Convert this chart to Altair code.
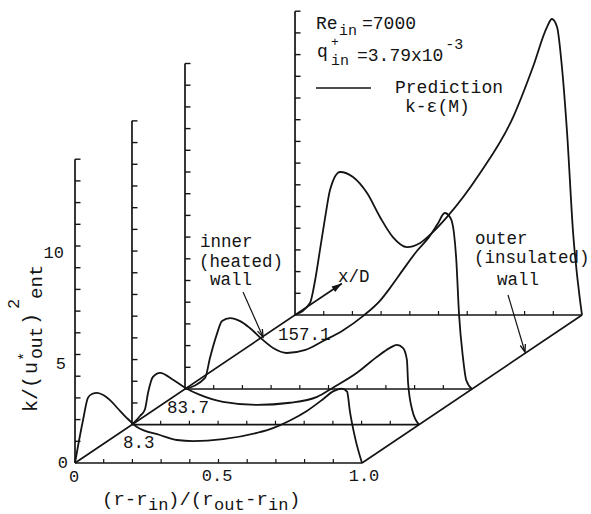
import altair as alt
import pandas as pd

# ---------------- values ----------------
# x/D stations of the oblique planes (front plane carries the axis frame)
station_labels = ["8.3", "83.7", "157.1"]

# k/(u*_out)^2_ent versus (r-r_in)/(r_out-r_in) for each plane (front -> back)
r_p0 = [0.0, 0.010, 0.028, 0.045, 0.059, 0.077, 0.100, 0.122, 0.150, 0.181, 0.216,
        0.296, 0.355, 0.411, 0.516, 0.634, 0.690, 0.749, 0.808, 0.864, 0.899,
        0.930, 0.948, 0.958, 0.976, 1.0]
k_p0 = [0.0, 0.74, 1.98, 3.00, 3.18, 3.23, 3.12, 2.90, 2.50, 2.07, 1.66,
        1.29, 1.06, 1.01, 1.10, 1.39, 1.61, 1.96, 2.40, 2.94, 3.30,
        3.43, 3.29, 2.37, 1.16, 0.0]

r_p1 = [0.0, 0.028, 0.045, 0.056, 0.073, 0.098, 0.143, 0.185, 0.237, 0.317, 0.436,
        0.551, 0.645, 0.700, 0.784, 0.854, 0.899, 0.923, 0.944, 0.958, 0.962, 0.976, 1.0]
k_p1 = [0.0, 0.40, 0.70, 1.47, 2.20, 2.39, 2.07, 1.70, 1.37, 1.05, 0.91,
        1.01, 1.28, 1.70, 2.39, 3.13, 3.54, 3.68, 3.54, 2.99, 1.93, 0.70, 0.0]

r_p2 = [0.0, 0.070, 0.087, 0.111, 0.129, 0.157, 0.192, 0.226, 0.268, 0.307, 0.355,
        0.420, 0.481, 0.550, 0.620, 0.679, 0.714, 0.760, 0.808, 0.850, 0.880,
        0.905, 0.925, 0.937, 0.945, 0.955, 0.968, 0.980, 1.0]
k_p2 = [0.0, 0.51, 1.43, 2.53, 3.13, 3.27, 3.13, 2.81, 2.30, 1.89, 1.66,
        1.80, 2.21, 2.70, 3.36, 4.06, 4.65, 5.50, 6.36, 7.00, 7.60,
        8.11, 7.88, 7.20, 6.00, 3.40, 1.50, 0.40, 0.0]

r_p3 = [0.0, 0.052, 0.070, 0.087, 0.105, 0.122, 0.157, 0.202, 0.251, 0.296, 0.341,
        0.390, 0.436, 0.470, 0.530, 0.645, 0.760, 0.829, 0.878, 0.895, 0.913,
        0.930, 0.948, 0.969, 0.993, 1.0]
k_p3 = [0.0, 0.55, 1.60, 3.00, 4.50, 5.76, 6.59, 6.36, 5.62, 4.52, 3.59,
        3.13, 3.32, 3.69, 4.52, 6.54, 9.12, 11.43, 13.27, 13.64, 13.27,
        11.43, 8.39, 3.78, 0.69, 0.0]

profiles = [(r_p0, k_p0), (r_p1, k_p1), (r_p2, k_p2), (r_p3, k_p3)]

axis_tops = [14, 14, 15, 14]          # height of each plane's k axis
r_ticks = [0.1, 0.2, 0.3, 0.4, 0.5, 0.6, 0.7, 0.8, 0.9]
y_label_text = ["0", "5", "10"]
y_label_vals = [0, 5, 10]
x_label_text = ["0", "0.5", "1.0"]
x_label_vals = [0.0, 0.5, 1.0]

# ---------------- layout (pixels / positions / styles) ----------------
W, H = 591, 514
PX_U, PX_V = 287.0, 21.7              # px per unit of r and of k
X0, Y0 = 75.0, 463.0                  # pixel of the front origin
U_MIN, U_MAX = -X0 / PX_U, (W - X0) / PX_U
V_MIN, V_MAX = -(H - Y0) / PX_V, Y0 / PX_V
OBL_U, OBL_V = 0.7666, 6.82           # oblique offset of the last plane
plane_pos = [0.0, 0.259, 0.5, 1.0]
XD_TIP = 1.213                         # where the x/D arrow ends (in plane units)
TICK_U = 5.5 / PX_U
TICK_V = 4.0 / PX_V
INK = "#141414"
FONT = "Liberation Mono"

offs = [(t * OBL_U, t * OBL_V) for t in plane_pos]

# curves
rows = []
for j, (rs, ks) in enumerate(profiles):
    du, dv = offs[j]
    for i, (r, k) in enumerate(zip(rs, ks)):
        rows.append(dict(series=j, order=i, u=r + du, v=k + dv))
df_curves = pd.DataFrame(rows)

# segments: axes, ticks, diagonals, arrows, legend line
segs = []
def seg(u1, v1, u2, v2, w):
    segs.append(dict(u=u1, v=v1, u2=u2, v2=v2, w=w))

for j, (du, dv) in enumerate(offs):
    seg(du, dv, du, dv + axis_tops[j], 1.7)
    seg(du, dv, du + 1.0, dv, 1.7)
    for k in range(1, axis_tops[j] + 1):
        seg(du, dv + k, du + TICK_U, dv + k, 1.4)
    for r in r_ticks:
        seg(du + r, dv, du + r, dv + TICK_V, 1.2)
seg(0, 0, XD_TIP * OBL_U, XD_TIP * OBL_V, 1.7)           # inner wall / x/D axis
seg(1.0, 0, 1.0 + OBL_U, OBL_V, 1.7)                      # outer wall
seg(0.5854, 7.880, 0.6551, 5.806, 1.2)                    # inner wall pointer
seg(1.5087, 7.742, 1.5679, 5.115, 1.2)                    # outer wall pointer
seg(0.8397, 17.28, 1.0314, 17.28, 1.6)                    # legend sample line
df_seg = pd.DataFrame(segs)

df_head_fill = pd.DataFrame([dict(u=XD_TIP * OBL_U, v=XD_TIP * OBL_V, ang=56.3, s=420)])
df_head_open = pd.DataFrame([dict(u=0.6551, v=5.806, ang=156.0, s=230),
                             dict(u=1.5679, v=5.115, ang=163.4, s=230)])

# texts (left aligned, horizontal)
ann = [
    ("Re", 0.8397, 20.00, 18), ("in", 0.9200, 19.72, 15), ("=7000", 1.0000, 20.00, 18),
    ("q", 0.8432, 18.71, 18), ("+", 0.8920, 19.22, 13), ("in", 0.8920, 18.34, 15),
    ("=3.79x10", 0.9826, 18.53, 18), ("-3", 1.2900, 19.08, 15),
    ("Prediction", 1.1150, 17.05, 18), ("k-ε(M)", 1.1498, 16.18, 18),
    ("inner", 0.4355, 9.95, 17.5), ("(heated)", 0.4321, 9.05, 17.5), ("wall", 0.4704, 8.20, 17.5),
    ("x/D", 0.9164, 8.341, 17.5),
    (station_labels[2], 0.7073, 5.668, 17.5), (station_labels[1], 0.3206, 2.304, 17.5),
    (station_labels[0], 0.1672, 0.691, 17.5),
    ("outer", 1.3937, 10.10, 17.5), ("(insulated)", 1.3902, 9.22, 17.5), ("wall", 1.4704, 8.20, 17.5),
    ("(r-r", 0.0941, -1.935, 19), ("in", 0.2544, -2.170, 17), (")/(r", 0.3240, -1.935, 19),
    ("out", 0.4843, -2.170, 17), ("-r", 0.5923, -1.935, 19), ("in", 0.6725, -2.170, 17),
    (")", 0.7456, -1.935, 19),
]
df_ann = pd.DataFrame(ann, columns=["txt", "u", "v", "fs"])

ytitle = [
    ("k/(", -0.1324, 2.350, 20), ("u", -0.1324, 4.101, 20), ("*", -0.1603, 4.700, 15),
    ("out", -0.1150, 4.793, 18), (")", -0.1324, 6.359, 20), ("2", -0.1951, 7.097, 17),
    ("ent", -0.1150, 7.558, 19),
]
df_yt = pd.DataFrame(ytitle, columns=["txt", "u", "v", "fs"])

y_shift = [0.0, 0.45, 0.32]
df_ylab = pd.DataFrame(dict(txt=y_label_text, u=[-0.0244, -0.0314, -0.0383],
                            v=[val - s for val, s in zip(y_label_vals, y_shift)]))
x_shift = [-0.0035, -0.005, 0.007]
df_xlab = pd.DataFrame(dict(txt=x_label_text,
                            u=[x + s for x, s in zip(x_label_vals, x_shift)],
                            v=[-0.645, -0.60, -0.60]))

xs = alt.Scale(domain=[U_MIN, U_MAX], nice=False, zero=False)
ys = alt.Scale(domain=[V_MIN, V_MAX], nice=False, zero=False)
ex = alt.X("u:Q", scale=xs, axis=None)
ey = alt.Y("v:Q", scale=ys, axis=None)

curves = alt.Chart(df_curves).mark_line(color=INK, strokeWidth=1.8, interpolate="monotone").encode(
    x=ex, y=ey, detail="series:N", order="order:Q")

segments = alt.Chart(df_seg).mark_rule(color=INK).encode(
    x=ex, y=ey, x2=alt.X2("u2:Q"), y2=alt.Y2("v2:Q"),
    strokeWidth=alt.StrokeWidth("w:Q", scale=None))

heads_fill = alt.Chart(df_head_fill).mark_point(
    shape="M0,0L-0.32,1L0.32,1Z", filled=True, color=INK, opacity=1).encode(
    x=ex, y=ey, angle=alt.Angle("ang:Q", scale=None), size=alt.Size("s:Q", scale=None))

heads_open = alt.Chart(df_head_open).mark_point(
    shape="M-0.35,1L0,0L0.35,1", filled=False, color=INK, strokeWidth=1.3, opacity=1).encode(
    x=ex, y=ey, angle=alt.Angle("ang:Q", scale=None), size=alt.Size("s:Q", scale=None))

texts = alt.Chart(df_ann).mark_text(font=FONT, align="left", baseline="alphabetic", color=INK).encode(
    x=ex, y=ey, text="txt:N", size=alt.Size("fs:Q", scale=None))

ytitle_txt = alt.Chart(df_yt).mark_text(font=FONT, align="left", baseline="alphabetic",
                                         angle=270, color=INK).encode(
    x=ex, y=ey, text="txt:N", size=alt.Size("fs:Q", scale=None))

ylabs = alt.Chart(df_ylab).mark_text(font=FONT, align="right", baseline="middle",
                                      fontSize=17, color=INK).encode(x=ex, y=ey, text="txt:N")
xlabs = alt.Chart(df_xlab).mark_text(font=FONT, align="center", baseline="middle",
                                      fontSize=17, color=INK).encode(x=ex, y=ey, text="txt:N")

chart = alt.layer(segments, curves, heads_fill, heads_open, texts, ytitle_txt, ylabs, xlabs).properties(
    width=W, height=H, padding=0, autosize=alt.AutoSizeParams(type="none"), background="white"
).configure_view(strokeWidth=0)

chart.save("out.html", embed_options={"renderer": "svg", "actions": False})
